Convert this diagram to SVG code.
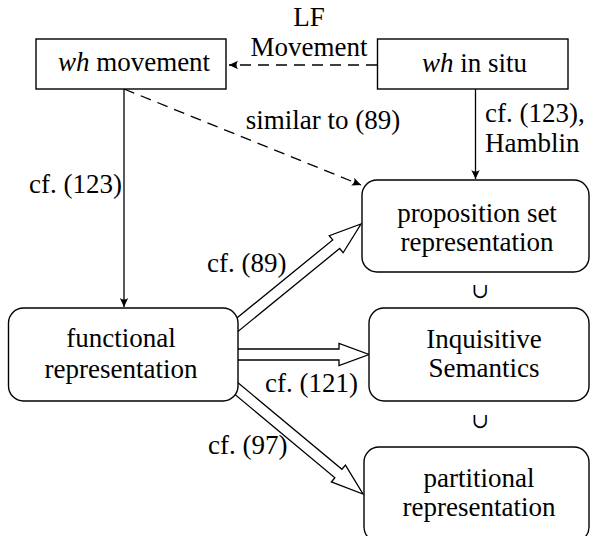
<svg xmlns="http://www.w3.org/2000/svg" width="590" height="536" viewBox="0 0 590 536">
<style>
text{font-family:"Liberation Serif","Times New Roman",serif;font-size:27px;fill:#000}
.c{text-anchor:middle}
.it{font-style:italic}
.u{font-family:"DejaVu Serif","Liberation Serif",serif;font-size:21px}
.box{fill:#fff;stroke:#000;stroke-width:1.4}
.ln{fill:none;stroke:#000;stroke-width:1.3}
.dash{stroke-dasharray:11 7}
.dbl{fill:#fff;stroke:#000;stroke-width:1.3;stroke-linejoin:miter}
</style>
<defs>
<marker id="ah" markerUnits="userSpaceOnUse" viewBox="-10 -5 11 10" refX="0" refY="0" markerWidth="11" markerHeight="10" orient="auto">
<path d="M0,0 L-9,-4.2 Q-6,0 -9,4.2 Z" fill="#000"/>
</marker>
</defs>
<g id="connectors">
<line class="ln dash" x1="377" y1="65" x2="229" y2="65" marker-end="url(#ah)"/>
<line class="ln" x1="124" y1="89" x2="124" y2="307" marker-end="url(#ah)"/>
<line class="ln dash" x1="124" y1="89" x2="361" y2="185" marker-end="url(#ah)"/>
<line class="ln" x1="475.5" y1="89" x2="475.5" y2="179" marker-end="url(#ah)"/>
<polygon class="dbl" points="229.8,323.8 332.72,239.96 329.24,235.69 361,224 343.14,252.75 339.66,248.48 236.8,332.4"/>
<polygon class="dbl" points="232,349 339,349 339,343.5 369,354.5 339,365.5 339,360 232,360"/>
<polygon class="dbl" points="235.9,381.0 341.93,469.28 345.45,465.06 363,494 331.37,481.96 334.89,477.74 228.9,389.4"/>
<text class="c" x="309" y="26">LF</text>
<text class="c" x="309" y="56">Movement</text>
<text class="c" x="323" y="129">similar to (89)</text>
<text x="485" y="122">cf. (123),</text>
<text x="485" y="152">Hamblin</text>
<text x="29" y="193">cf. (123)</text>
<text x="207" y="272">cf. (89)</text>
<text x="265" y="392">cf. (121)</text>
<text x="208" y="454">cf. (97)</text>
</g>
<g id="wh-movement">
<rect class="box" x="36" y="39" width="190" height="50"/>
<text class="c" x="134" y="71"><tspan class="it">wh</tspan> movement</text>
</g>
<g id="wh-in-situ">
<rect class="box" x="377.5" y="39" width="190.5" height="50"/>
<text class="c" x="474.5" y="72"><tspan class="it">wh</tspan> in situ</text>
</g>
<g id="proposition-set">
<rect class="box" x="362" y="180" width="227" height="92" rx="15"/>
<text class="c" x="477" y="222">proposition set</text>
<text class="c" x="477" y="251">representation</text>
</g>
<g id="inquisitive">
<rect class="box" x="369" y="308" width="220" height="93" rx="15"/>
<text class="c" x="484" y="348">Inquisitive</text>
<text class="c" x="484" y="377">Semantics</text>
</g>
<g id="partitional">
<rect class="box" x="364" y="447" width="225" height="95" rx="15"/>
<text class="c" x="479" y="487">partitional</text>
<text class="c" x="479" y="516">representation</text>
</g>
<g id="functional">
<rect class="box" x="8.5" y="308" width="229.5" height="93" rx="15"/>
<text class="c" x="121" y="347">functional</text>
<text class="c" x="121" y="378">representation</text>
</g>
<g id="union-marks">
<text class="c u" x="480" y="298">∪</text>
<text class="c u" x="480" y="428">∪</text>
</g>
</svg>
